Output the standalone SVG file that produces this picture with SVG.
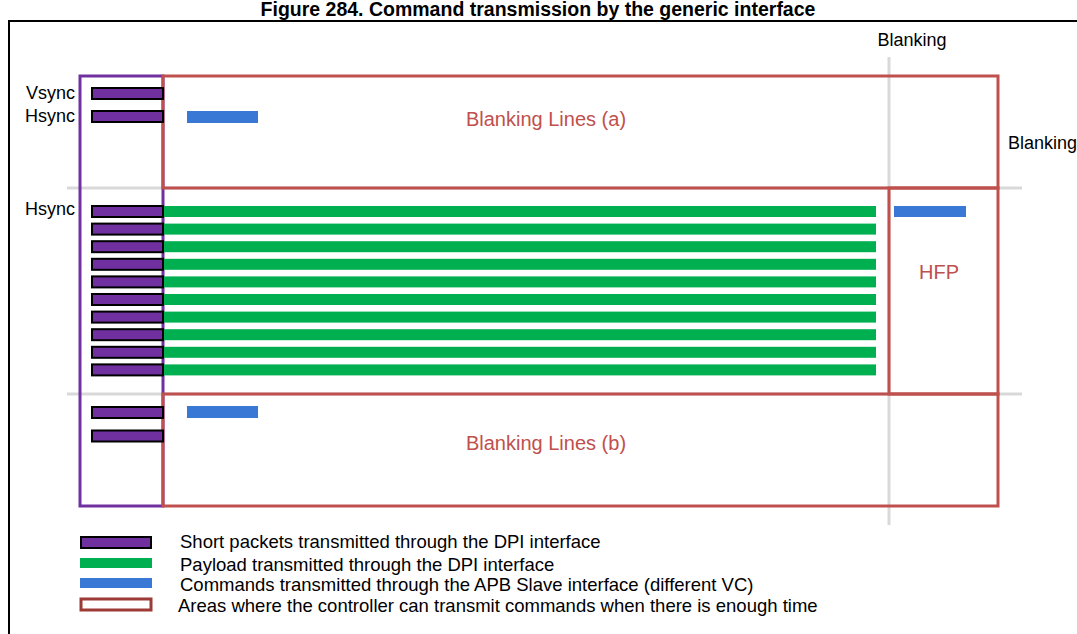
<svg xmlns="http://www.w3.org/2000/svg" width="1077" height="634" viewBox="0 0 1077 634">
<style>
.t{font-family:"Liberation Sans",Arial,sans-serif;font-size:18px;fill:#000}
.lg{font-family:"Liberation Sans",Arial,sans-serif;font-size:18.5px;fill:#000}
.red{font-family:"Liberation Sans",Arial,sans-serif;font-size:20px;fill:#C0504D}
.sp{fill:#7030A0;stroke:#000;stroke-width:2}
.pl{fill:#00B050}
.cm{fill:#3A78D6}
.area{fill:none;stroke:#C0504D;stroke-width:3}
.grid{stroke:#D9D9D9;stroke-width:3;fill:none}
</style>
<rect width="1077" height="634" fill="#fff"/>
<text x="538" y="16" text-anchor="middle" font-family="Liberation Sans, Arial, sans-serif" font-size="19.5" font-weight="bold">Figure 284. Command transmission by the generic interface</text>
<rect x="9" y="21" width="1100" height="700" fill="none" stroke="#000" stroke-width="2"/>
<g id="connectors">
<line class="grid" x1="67" y1="188" x2="1022" y2="188"/>
<line class="grid" x1="67" y1="394" x2="1022" y2="394"/>
<line class="grid" x1="889" y1="57" x2="889" y2="525"/>
</g>
<g id="sync-column">
<rect x="80" y="76" width="83" height="430" fill="none" stroke="#7030A0" stroke-width="3"/>
</g>
<g id="blanking-a">
<rect class="area" x="163" y="76" width="835" height="112"/>
<text class="red" x="546" y="126" text-anchor="middle">Blanking Lines (a)</text>
</g>
<g id="hfp">
<rect class="area" x="889" y="188" width="109" height="206"/>
<text class="red" x="939" y="279" text-anchor="middle">HFP</text>
</g>
<g id="blanking-b">
<rect class="area" x="163" y="394" width="835" height="112"/>
<text class="red" x="546" y="450" text-anchor="middle">Blanking Lines (b)</text>
</g>
<g id="payload">
<rect class="pl" x="163" y="206" width="713" height="11"/>
<rect class="pl" x="163" y="223.6" width="713" height="11"/>
<rect class="pl" x="163" y="241.2" width="713" height="11"/>
<rect class="pl" x="163" y="258.8" width="713" height="11"/>
<rect class="pl" x="163" y="276.4" width="713" height="11"/>
<rect class="pl" x="163" y="294" width="713" height="11"/>
<rect class="pl" x="163" y="311.6" width="713" height="11"/>
<rect class="pl" x="163" y="329.2" width="713" height="11"/>
<rect class="pl" x="163" y="346.8" width="713" height="11"/>
<rect class="pl" x="163" y="364.4" width="713" height="11"/>
</g>
<g id="short-packets">
<rect class="sp" x="92" y="88" width="71" height="11"/>
<rect class="sp" x="92" y="111" width="71" height="11"/>
<rect class="sp" x="92" y="206" width="71" height="11"/>
<rect class="sp" x="92" y="223.6" width="71" height="11"/>
<rect class="sp" x="92" y="241.2" width="71" height="11"/>
<rect class="sp" x="92" y="258.8" width="71" height="11"/>
<rect class="sp" x="92" y="276.4" width="71" height="11"/>
<rect class="sp" x="92" y="294" width="71" height="11"/>
<rect class="sp" x="92" y="311.6" width="71" height="11"/>
<rect class="sp" x="92" y="329.2" width="71" height="11"/>
<rect class="sp" x="92" y="346.8" width="71" height="11"/>
<rect class="sp" x="92" y="364.4" width="71" height="11"/>
<rect class="sp" x="92" y="407" width="71" height="11"/>
<rect class="sp" x="92" y="430.5" width="71" height="11"/>
</g>
<g id="commands">
<rect class="cm" x="187" y="111" width="71" height="12"/>
<rect class="cm" x="894" y="206" width="72" height="11"/>
<rect class="cm" x="187" y="406" width="71" height="12"/>
</g>
<g id="labels">
<text class="t" x="75" y="99" text-anchor="end">Vsync</text>
<text class="t" x="75" y="122" text-anchor="end">Hsync</text>
<text class="t" x="75" y="215" text-anchor="end">Hsync</text>
<text class="t" x="912" y="46" text-anchor="middle">Blanking</text>
<text class="t" x="1008" y="149">Blanking</text>
</g>
<g id="legend">
<rect class="sp" x="81" y="537" width="70" height="11"/>
<text class="lg" x="180" y="548">Short packets transmitted through the DPI interface</text>
<rect class="pl" x="80" y="558" width="72" height="10"/>
<text class="lg" x="180" y="571">Payload transmitted through the DPI interface</text>
<rect class="cm" x="80" y="578" width="72" height="10"/>
<text class="lg" x="180" y="591">Commands transmitted through the APB Slave interface (different VC)</text>
<rect x="81" y="599" width="70" height="11" fill="#fff" stroke="#9C3B36" stroke-width="3"/>
<text class="lg" x="178" y="612">Areas where the controller can transmit commands when there is enough time</text>
</g>
</svg>
